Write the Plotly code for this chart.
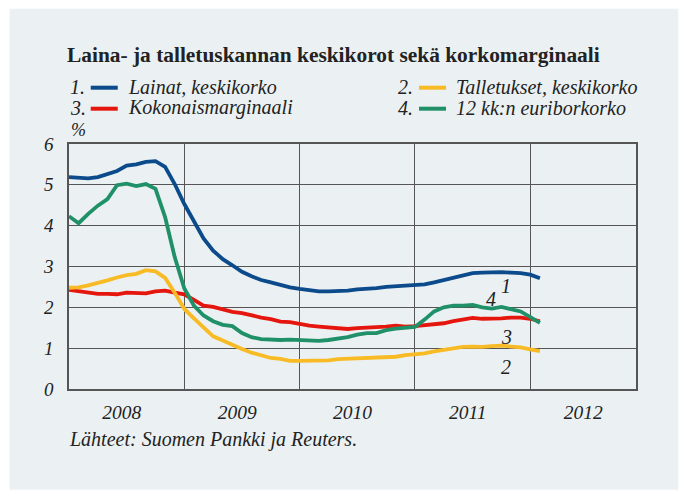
import plotly.graph_objects as go

# Monthly data, Jan 2008 (index 0) .. Feb 2012 (index 49)
months = list(range(50))

lainat = [5.19, 5.17, 5.16, 5.19, 5.26, 5.34, 5.47, 5.50, 5.56, 5.58,
          5.44, 5.02, 4.53, 4.09, 3.69, 3.39, 3.18, 3.03, 2.87, 2.76,
          2.67, 2.61, 2.54, 2.49, 2.45, 2.41, 2.39, 2.39, 2.39, 2.41,
          2.44, 2.45, 2.47, 2.50, 2.51, 2.53, 2.54, 2.56, 2.61, 2.67,
          2.74, 2.80, 2.84, 2.85, 2.86, 2.86, 2.85, 2.84, 2.80, 2.71]

talletukset = [2.48, 2.49, 2.54, 2.59, 2.66, 2.73, 2.79, 2.82, 2.91, 2.88,
               2.72, 2.36, 1.96, 1.73, 1.51, 1.29, 1.19, 1.08, 0.98, 0.89,
               0.82, 0.76, 0.74, 0.69, 0.69, 0.69, 0.69, 0.70, 0.73, 0.74,
               0.76, 0.77, 0.78, 0.79, 0.79, 0.83, 0.84, 0.87, 0.92, 0.96,
               1.00, 1.03, 1.04, 1.03, 1.05, 1.06, 1.04, 1.02, 0.97, 0.93]

marginaali = [2.43, 2.39, 2.36, 2.33, 2.33, 2.32, 2.36, 2.36, 2.34, 2.39,
              2.41, 2.36, 2.32, 2.18, 2.04, 2.01, 1.94, 1.89, 1.86, 1.80,
              1.75, 1.71, 1.65, 1.64, 1.59, 1.55, 1.53, 1.51, 1.49, 1.47,
              1.49, 1.50, 1.50, 1.53, 1.55, 1.53, 1.54, 1.56, 1.58, 1.61,
              1.66, 1.71, 1.74, 1.72, 1.72, 1.73, 1.75, 1.75, 1.72, 1.66]

euribor = [4.23, 4.06, 4.29, 4.49, 4.65, 4.99, 5.03, 4.97, 5.02, 4.90,
           4.21, 3.23, 2.46, 2.04, 1.80, 1.66, 1.57, 1.54, 1.37, 1.27,
           1.22, 1.20, 1.20, 1.21, 1.20, 1.20, 1.18, 1.20, 1.23, 1.27,
           1.33, 1.37, 1.37, 1.44, 1.48, 1.49, 1.52, 1.70, 1.90, 2.00,
           2.04, 2.04, 2.06, 2.00, 1.97, 2.01, 1.95, 1.90, 1.76, 1.62]

year_labels = ["2008", "2009", "2010", "2011", "2012"]
year_pos = [5.5, 17.5, 29.5, 41.5, 53.5]
year_bounds = [12, 24, 36, 48]

series = [
    ("1.", "Lainat, keskikorko", lainat, "#0b4a8b"),
    ("2.", "Talletukset, keskikorko", talletukset, "#f8bb25"),
    ("3.", "Kokonaismarginaali", marginaali, "#e5160e"),
    ("4.", "12 kk:n euriborkorko", euribor, "#1f9068"),
]

end_labels = [("1", 45.5, 2.53), ("4", 43.9, 2.2), ("3", 45.5, 1.27), ("2", 45.5, 0.55)]

BG = "#ebf1f2"
FONT = "Liberation Serif"
TXT = "#222222"

fig = go.Figure()
# draw order: red, yellow, green, blue
for idx in [2, 1, 3, 0]:
    num, name, vals, col = series[idx]
    fig.add_trace(go.Scatter(x=months, y=vals, mode="lines", name=name,
                             line=dict(color=col, width=3.8), showlegend=False,
                             hoverinfo="skip"))

# geometry of plot area in pixels
L, R, T, B = 69.3, 635.8, 144.3, 389.3
W, H = 679, 490
pw, ph = R - L, B - T

def px(x):
    return (x - L) / pw

def py(y):
    return (B - y) / ph

shapes = [dict(type="rect", xref="paper", yref="paper", x0=px(10), x1=px(678),
               y0=py(490), y1=py(9), fillcolor=BG, line=dict(width=0), layer="below")]
annotations = []

annotations.append(dict(text="<b>Laina- ja talletuskannan keskikorot sekä korkomarginaali</b>",
                        xref="paper", yref="paper", x=px(65), y=py(55), xanchor="left",
                        yanchor="middle", showarrow=False,
                        font=dict(family=FONT, size=21.4, color=TXT)))

leg_pos = [(68, 87), (396, 87), (68, 108), (396, 108)]
for (num, name, vals, col), (lx, ly) in zip(series, leg_pos):
    annotations.append(dict(text=num, xref="paper", yref="paper", x=px(lx), y=py(ly),
                            xanchor="left", yanchor="middle", showarrow=False,
                            font=dict(family=FONT, size=20, color=TXT, style="italic")))
    shapes.append(dict(type="line", xref="paper", yref="paper", x0=px(lx + 23), x1=px(lx + 50),
                       y0=py(ly + 1), y1=py(ly + 1), line=dict(color=col, width=4)))
    annotations.append(dict(text=name, xref="paper", yref="paper", x=px(lx + 58), y=py(ly),
                            xanchor="left", yanchor="middle", showarrow=False,
                            font=dict(family=FONT, size=20, color=TXT, style="italic")))

annotations.append(dict(text="%", xref="paper", yref="paper", x=px(69), y=py(130),
                        xanchor="left", yanchor="middle", showarrow=False,
                        font=dict(family=FONT, size=18, color=TXT, style="italic")))

for t, xv, yv in end_labels:
    annotations.append(dict(text=t, x=xv, y=yv, xref="x", yref="y", showarrow=False,
                            font=dict(family=FONT, size=20, color=TXT, style="italic")))

annotations.append(dict(text="Lähteet: Suomen Pankki ja Reuters.", xref="paper", yref="paper",
                        x=px(67), y=py(440), xanchor="left", yanchor="middle", showarrow=False,
                        font=dict(family=FONT, size=20, color=TXT, style="italic")))

fig.update_layout(
    width=W, height=H,
    margin=dict(l=L, r=W - R, t=T, b=H - B, pad=0),
    paper_bgcolor="white", plot_bgcolor=BG,
    shapes=shapes, annotations=annotations,
    xaxis=dict(range=[0, 59], tickvals=year_pos, ticktext=year_labels, showgrid=False,
               ticks="", zeroline=False, showline=True, mirror=True, linecolor="#555555",
               linewidth=1.5, tickfont=dict(family=FONT, size=19.5, color=TXT, style="italic"),
               minor=dict(tickvals=year_bounds, showgrid=True, gridcolor="#555555",
                          gridwidth=1, ticks=""),
               ticklabelstandoff=5),
    yaxis=dict(range=[0, 6], tickvals=[0, 1, 2, 3, 4, 5, 6], showgrid=True,
               gridcolor="#555555", gridwidth=1, zeroline=False, showline=True, mirror=True,
               linecolor="#555555", linewidth=1.5, ticks="",
               tickfont=dict(family=FONT, size=19, color=TXT, style="italic"),
               ticklabelstandoff=10),
)

fig.write_html("out.html", config={"displayModeBar": False},
               post_script="document.body.style.margin='0px';")
